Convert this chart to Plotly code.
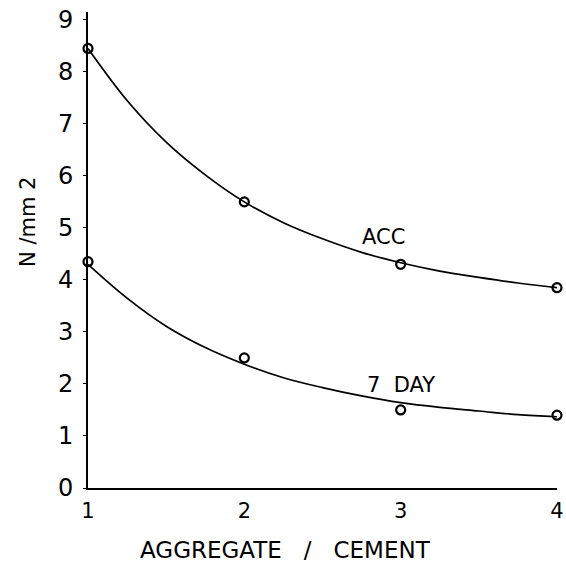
import plotly.graph_objects as go

# measured points
x_pts = [1, 2, 3, 4]
acc_pts = [8.45, 5.5, 4.3, 3.85]
day7_pts = [4.35, 2.5, 1.5, 1.4]

# fitted curves
x_curve = [1, 1.25, 1.5, 1.75, 2, 2.25, 2.5, 2.75, 3, 3.25, 3.5, 3.75, 4]
acc_curve = [8.45, 7.45, 6.65, 6.02, 5.5, 5.1, 4.79, 4.53, 4.33, 4.17, 4.05, 3.94, 3.85]
day7_curve = [4.3, 3.65, 3.11, 2.7, 2.38, 2.12, 1.93, 1.77, 1.64, 1.55, 1.48, 1.41, 1.37]

labels = ["ACC", "7  DAY"]
label_x = [2.89, 3.0]
label_y = [4.83, 1.98]

x_title = "AGGREGATE   /   CEMENT"
y_title = "N /mm 2"

FONT = "DejaVu Sans"
PW = 566 - 88 - 9
fig = go.Figure()
for yc in [acc_curve, day7_curve]:
    fig.add_trace(go.Scatter(x=x_curve, y=yc, mode="lines", line=dict(color="black", width=1.7, shape="spline"),
                             showlegend=False, cliponaxis=False))
for yp in [acc_pts, day7_pts]:
    fig.add_trace(go.Scatter(x=x_pts, y=yp, mode="markers",
                             marker=dict(symbol="circle-open", size=9, color="black", line=dict(width=2.2)),
                             showlegend=False, cliponaxis=False))
for t, lx, ly in zip(labels, label_x, label_y):
    fig.add_annotation(x=lx, y=ly, text=t, showarrow=False, font=dict(family=FONT, size=21, color="black"))

fig.add_annotation(xref="paper", yref="paper", x=(285 - 88) / PW, y=-(550 - 488) / 476, text=x_title,
                   showarrow=False, font=dict(family=FONT, size=23, color="black"), yanchor="middle")
fig.add_annotation(xref="paper", yref="paper", x=-(88 - 28) / PW, y=(488 - 222) / 476, text=y_title,
                   textangle=-90, showarrow=False, font=dict(family=FONT, size=21, color="black"),
                   xanchor="center", yanchor="middle")

fig.update_layout(
    width=566, height=563, plot_bgcolor="white", paper_bgcolor="white",
    margin=dict(l=88, r=9, t=12, b=75, autoexpand=False),
    font=dict(family=FONT, color="black"),
)
fig.update_xaxes(range=[1, 4], tickvals=[1, 2, 3, 4], showgrid=False, zeroline=False, automargin=False,
                 showline=True, linecolor="black", linewidth=2, ticks="", tickfont=dict(size=21),
                 ticklabeloverflow="allow", ticklabelstandoff=3)
fig.update_yaxes(range=[0, 9.15], tickvals=list(range(10)), showgrid=False, zeroline=False, automargin=False,
                 showline=True, linecolor="black", linewidth=2, ticks="outside", ticklen=3, tickwidth=1,
                 tickcolor="black", tickfont=dict(size=24), ticklabelstandoff=5)
fig.write_html("out.html")
